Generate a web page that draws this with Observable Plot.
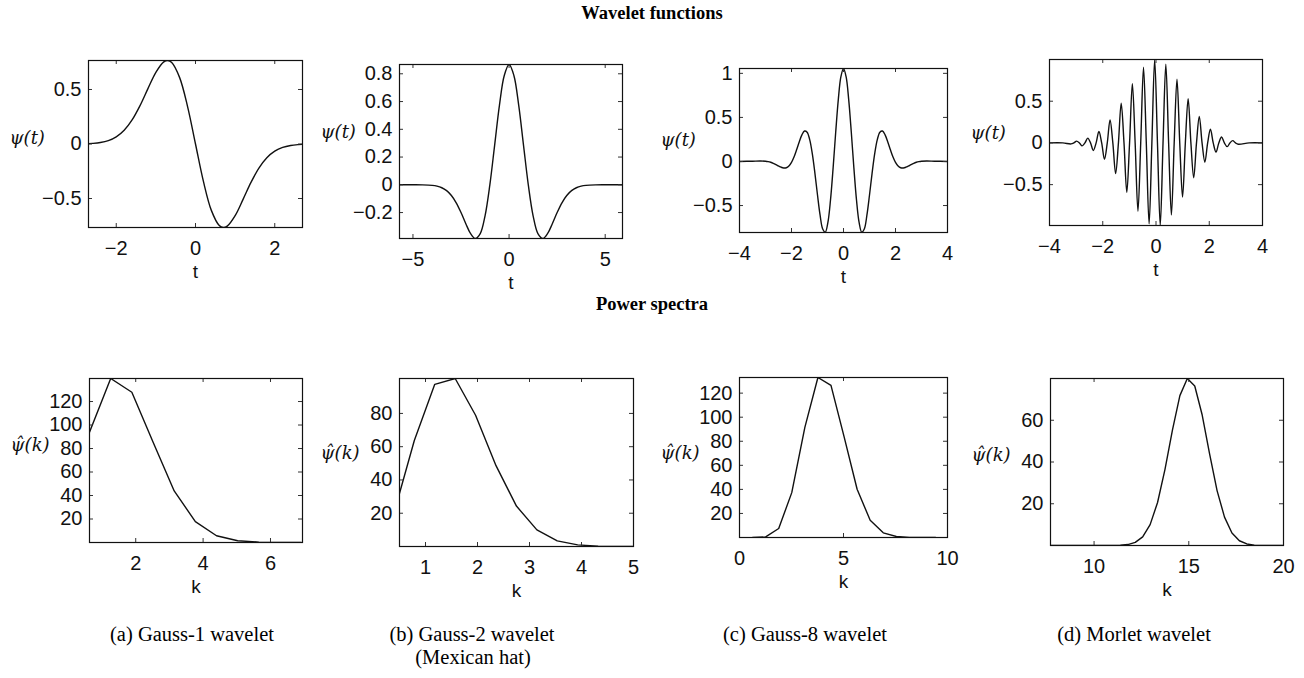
<!DOCTYPE html>
<html>
<head>
<meta charset="utf-8">
<script src="https://cdn.jsdelivr.net/npm/d3@7"></script>
<script src="https://cdn.jsdelivr.net/npm/@observablehq/plot@0.6"></script>
<style>
  html, body { margin: 0; padding: 0; background: #fff; }
  #root { position: relative; width: 1304px; height: 678px; background: #fff; overflow: hidden; }
  .panel { position: absolute; }
  .title { position: absolute; left: 0; width: 1304px; text-align: center; font-family: "Liberation Serif", "Times New Roman", serif; font-weight: bold; font-size: 18.5px; line-height: 1; }
  .cap { position: absolute; transform: translateX(-50%); white-space: nowrap; font-family: "Liberation Serif", "Times New Roman", serif; font-size: 20.5px; line-height: 1; text-align: center; }
</style>
</head>
<body>
<div id="root">
  <div class="title" style="top:4px">Wavelet functions</div>
  <div class="title" style="top:295px">Power spectra</div>
  <div class="cap" style="left:192px; top:624px">(a) Gauss-1 wavelet</div>
  <div class="cap" style="left:472px; top:624px">(b) Gauss-2 wavelet</div>
  <div class="cap" style="left:473px; top:647px">(Mexican hat)</div>
  <div class="cap" style="left:805px; top:624px">(c) Gauss-8 wavelet</div>
  <div class="cap" style="left:1134px; top:624px">(d) Morlet wavelet</div>
</div>
<script>
// ---------- data ----------
// (a) Gauss-1 wavelet
const g1T   = [-2.7,-2.6,-2.4,-2.2,-2.0,-1.8,-1.6,-1.4,-1.2,-1.0,-0.8,-0.7,-0.6,-0.4,-0.2,0,0.2,0.4,0.6,0.7,0.8,1.0,1.2,1.4,1.6,1.8,2.0,2.2,2.4,2.6,2.7];
const g1Psi = [0.0033,0.0054,0.0135,0.0311,0.0654,0.1259,0.2210,0.3524,0.5079,0.6572,0.7536,0.7661,0.7479,0.6089,0.3433,0,-0.3433,-0.6089,-0.7479,-0.7661,-0.7536,-0.6572,-0.5079,-0.3524,-0.2210,-0.1259,-0.0654,-0.0311,-0.0135,-0.0054,-0.0033];
// (b) Gauss-2 (Mexican hat)
const g2T   = [-5.7,-5,-4.5,-4,-3.75,-3.5,-3.25,-3,-2.75,-2.5,-2.25,-2,-1.75,-1.5,-1.25,-1,-0.75,-0.5,-0.25,0,0.25,0.5,0.75,1,1.25,1.5,1.75,2,2.25,2.5,2.75,3,3.25,3.5,3.75,4,4.5,5,5.9];
const g2Psi = [0,-0.0001,-0.0007,-0.0044,-0.0100,-0.0213,-0.0422,-0.0771,-0.1297,-0.2001,-0.2803,-0.3521,-0.3869,-0.3520,-0.2234,0,0.2864,0.5741,0.7881,0.8673,0.7881,0.5741,0.2864,0,-0.2234,-0.3520,-0.3869,-0.3521,-0.2803,-0.2001,-0.1297,-0.0771,-0.0422,-0.0213,-0.0100,-0.0044,-0.0007,-0.0001,0];
// (c) Gauss-8
const g8T   = [-4,-3.5,-3.2,-3.0,-2.9,-2.8,-2.7,-2.6,-2.5,-2.4,-2.3,-2.2,-2.1,-2.0,-1.9,-1.8,-1.7,-1.6,-1.5,-1.4,-1.3,-1.2,-1.1,-1.0,-0.9,-0.8,-0.7,-0.6,-0.5,-0.4,-0.3,-0.2,-0.1,0,0.1,0.2,0.3,0.4,0.5,0.6,0.7,0.8,0.9,1.0,1.1,1.2,1.3,1.4,1.5,1.6,1.7,1.8,1.9,2.0,2.1,2.2,2.3,2.4,2.5,2.6,2.7,2.8,2.9,3.0,3.2,3.5,4];
const g8Psi = [0.0004,0.0031,0.0054,0.0028,-0.0017,-0.0093,-0.0204,-0.0346,-0.0505,-0.0652,-0.0741,-0.0715,-0.0517,-0.0101,0.0540,0.1361,0.2247,0.3019,0.3453,0.3327,0.2481,0.0885,-0.1321,-0.3807,-0.6098,-0.7660,-0.8024,-0.6920,-0.4377,-0.0754,0.3310,0.7021,0.9617,1.055,0.9617,0.7021,0.3310,-0.0754,-0.4377,-0.6920,-0.8024,-0.7660,-0.6098,-0.3807,-0.1321,0.0885,0.2481,0.3327,0.3453,0.3019,0.2247,0.1361,0.0540,-0.0101,-0.0517,-0.0715,-0.0741,-0.0652,-0.0505,-0.0346,-0.0204,-0.0093,-0.0017,0.0028,0.0054,0.0031,0.0004];
// (d) Morlet
const morT   = [-4,-3.5,-3.192,-3.087,-2.982,-2.877,-2.773,-2.668,-2.563,-2.459,-2.354,-2.249,-2.144,-2.040,-1.935,-1.830,-1.726,-1.621,-1.516,-1.411,-1.307,-1.202,-1.097,-0.993,-0.888,-0.783,-0.678,-0.574,-0.469,-0.364,-0.259,-0.155,-0.050,0.055,0.159,0.264,0.369,0.474,0.578,0.683,0.788,0.892,0.997,1.102,1.207,1.311,1.416,1.521,1.626,1.730,1.835,1.940,2.044,2.149,2.254,2.359,2.463,2.568,2.673,2.777,2.882,2.987,3.092,3.5,4];
const morPsi = [0,0,-0.012,0,0.021,0,-0.035,0,0.057,0,-0.090,0,0.136,0,-0.196,0,0.274,0,-0.368,0,0.476,0,-0.593,0,0.710,0,-0.819,0,0.909,0,-0.971,0,0.999,0,-0.989,0,0.943,0,-0.865,0,0.764,0,-0.649,0,0.531,0,-0.418,0,0.317,0,-0.231,0,0.163,0,-0.110,0,0.071,0,-0.045,0,0.027,0,-0.016,0,0];
// power spectra
const s1K   = [0.628,1.257,1.885,2.513,3.142,3.770,4.398,5.027,5.655,6.283,6.912];
const s1Val = [93.9,139.6,127.9,85.5,43.9,17.8,5.76,1.50,0.31,0.05,0.01];
const s2K   = [0.393,0.785,1.178,1.571,1.963,2.356,2.749,3.142,3.534,3.927,4.320,4.712,5.105];
const s2Val = [20.1,63.7,97.5,101.0,78.9,48.6,24.3,9.98,3.40,0.97,0.23,0.05,0.01];
const s8K   = [0.628,1.257,1.885,2.513,3.142,3.770,4.398,5.027,5.655,6.283,6.912,7.540,8.168,8.796,9.425];
const s8Val = [0.0,0.48,7.46,37.3,91.6,133.0,126.5,83.8,40.1,14.3,3.86,0.80,0.13,0.02,0.0];
const sMK   = [7.461,7.854,8.247,8.639,9.032,9.425,9.817,10.210,10.603,10.996,11.388,11.781,12.174,12.566,12.959,13.352,13.744,14.137,14.530,14.923,15.315,15.708,16.101,16.493,16.886,17.279,17.671,18.064,18.457,18.850,19.242,19.635,20.028];
const sMVal = [0,0,0,0,0,0,0,0,0.01,0.03,0.12,0.45,1.48,4.15,10.0,20.6,36.5,55.3,71.8,80.0,76.4,62.5,43.8,26.3,13.6,5.98,2.27,0.73,0.20,0.05,0.01,0,0];

// axis ticks
const ticks = {
  x1: [-2,0,2], y1: [-0.5,0,0.5],
  x2: [-5,0,5], y2: [-0.2,0,0.2,0.4,0.6,0.8],
  x3: [-4,-2,0,2,4], y3: [-0.5,0,0.5,1],
  x4: [-4,-2,0,2,4], y4: [-0.5,0,0.5],
  x5: [2,4,6], y5: [20,40,60,80,100,120],
  x6: [1,2,3,4,5], y6: [20,40,60,80],
  x7: [0,5,10], y7: [20,40,60,80,100,120],
  x8: [10,15,20], y8: [20,40,60]
};

// ---------- layout ----------
const PSI = "\u03C8(t)";
const PSIHAT = "\u03C8\u0302(k)";
const panels = [
  {xs: g1T, ys: g1Psi, curve: "catmull-rom", xd: [-2.7,2.7], yd: [-0.766,0.766], xt: ticks.x1, yt: ticks.y1, xl: "t", yl: PSI, f: [88,60,214,167], ldy: -6},
  {xs: g2T, ys: g2Psi, curve: "catmull-rom", xd: [-5.7,5.9], yd: [-0.387,0.867], xt: ticks.x2, yt: ticks.y2, xl: "t", yl: PSI, f: [399,64,223,174], ldy: -19},
  {xs: g8T, ys: g8Psi, curve: "catmull-rom", xd: [-4,4], yd: [-0.806,1.055], xt: ticks.x3, yt: ticks.y3, xl: "t", yl: PSI, f: [739,68,208,164], ldy: -10},
  {xs: morT, ys: morPsi, curve: "catmull-rom", xd: [-4,4], yd: [-0.99,1.0], xt: ticks.x4, yt: ticks.y4, xl: "t", yl: PSI, f: [1049,59,213,166], ldy: -9},
  {xs: s1K, ys: s1Val, curve: "linear", xd: [0.628,6.95], yd: [0,139.6], xt: ticks.x5, yt: ticks.y5, xl: "k", yl: PSIHAT, f: [89,378,213,164], ldy: -15},
  {xs: s2K, ys: s2Val, curve: "linear", xd: [0.5,5], yd: [0,101], xt: ticks.x6, yt: ticks.y6, xl: "k", yl: PSIHAT, f: [399,378,234,168], ldy: -9},
  {xs: s8K, ys: s8Val, curve: "linear", xd: [0,10], yd: [0,133], xt: ticks.x7, yt: ticks.y7, xl: "k", yl: PSIHAT, f: [739,377,208,160], ldy: -4},
  {xs: sMK, ys: sMVal, curve: "linear", xd: [7.7,20], yd: [0,80], xt: ticks.x8, yt: ticks.y8, xl: "k", yl: PSIHAT, f: [1050,378,233,167], ldy: -7}
];

const fmt = d => (d < 0 ? "\u2212" : "") + String(Math.abs(d));
const ML = 86, MR = 12, MT = 10, MB = 58;
const LABEL_DX = -79;
const serif = "DejaVu Serif, Liberation Serif, serif";
const root = document.getElementById("root");

for (const p of panels) {
  const [fl, ft, fw, fh] = p.f;
  const marks = [
    Plot.line(p.ys, {x: p.xs, y: p.ys, curve: p.curve, stroke: "#111", strokeWidth: 1.4, clip: true}),
    // inward tick marks on all four sides
    Plot.ruleX(p.xt, {x: d => d, insetTop: fh - 4, stroke: "#333", strokeWidth: 1}),
    Plot.ruleX(p.xt, {x: d => d, insetBottom: fh - 4, stroke: "#333", strokeWidth: 1}),
    Plot.ruleY(p.yt, {y: d => d, insetRight: fw - 4, stroke: "#333", strokeWidth: 1}),
    Plot.ruleY(p.yt, {y: d => d, insetLeft: fw - 4, stroke: "#333", strokeWidth: 1}),
    Plot.frame({stroke: "#111", strokeWidth: 1.2}),
    Plot.axisX({ticks: p.xt, anchor: "bottom", tickSize: 0, tickPadding: 13, tickFormat: fmt, label: null}),
    Plot.axisY({ticks: p.yt, anchor: "left", tickSize: 0, tickPadding: 7, tickFormat: fmt, label: null}),
    Plot.text([p.xl], {frameAnchor: "bottom", dy: 44, text: d => d, lineAnchor: "middle", fontSize: 19, fill: "#111"}),
    Plot.text([p.yl], {frameAnchor: "left", dx: LABEL_DX, dy: p.ldy, text: d => d,
                       textAnchor: "start", lineAnchor: "middle",
                       fontFamily: serif, fontStyle: "italic", fontSize: 18, fill: "#111"})
  ];
  const chart = Plot.plot({
    width: ML + fw + MR,
    height: MT + fh + MB,
    marginLeft: ML, marginRight: MR, marginTop: MT, marginBottom: MB,
    x: {domain: p.xd},
    y: {domain: p.yd},
    style: {fontFamily: "Liberation Sans, Arial, sans-serif", fontSize: "20px", background: "transparent", overflow: "visible", color: "#111"},
    marks
  });
  const holder = document.createElement("div");
  holder.className = "panel";
  holder.style.left = (fl - ML) + "px";
  holder.style.top = (ft - MT) + "px";
  holder.appendChild(chart);
  root.appendChild(holder);
}
</script>
</body>
</html>
